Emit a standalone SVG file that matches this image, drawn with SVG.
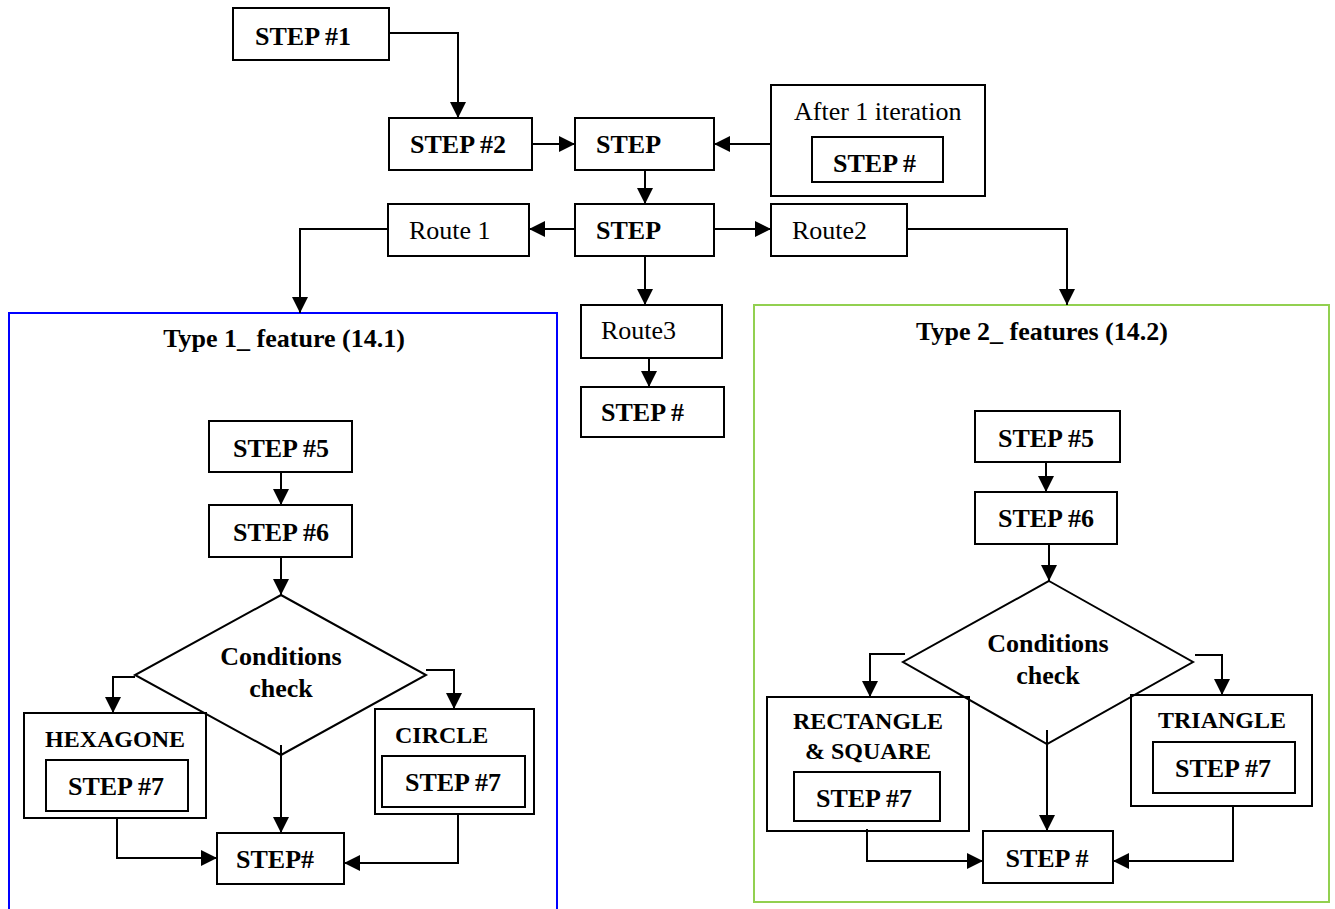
<svg xmlns="http://www.w3.org/2000/svg" width="1335" height="909" viewBox="0 0 1335 909">
  <style>
    .box { fill: none; stroke: #000; stroke-width: 2; }
    .link { fill: none; stroke: #000; stroke-width: 2; marker-end: url(#head); }
    .plain { fill: none; stroke: #000; stroke-width: 2; }
    .b { font-family: "Liberation Serif", "Times New Roman", serif; font-weight: bold; font-size: 26px; fill: #000; }
    .r { font-family: "Liberation Serif", "Times New Roman", serif; font-size: 26px; fill: #000; }
    .s { font-family: "Liberation Serif", "Times New Roman", serif; font-weight: bold; font-size: 24px; fill: #000; }
    .mid { text-anchor: middle; }
  </style>
  <defs>
    <marker id="head" markerUnits="userSpaceOnUse" markerWidth="16" markerHeight="16" viewBox="0 0 14 14" refX="14" refY="7" orient="auto">
      <path d="M0,0 L14,7 L0,14 Z" fill="#000"/>
    </marker>
  </defs>

  <rect width="1335" height="909" fill="#fff"/>

  <!-- group frames -->
  <g id="type1-frame">
    <rect x="9" y="313" width="548" height="600" fill="none" stroke="#0000ff" stroke-width="2"/>
    <text class="b mid" x="284" y="347">Type 1_ feature (14.1)</text>
  </g>
  <g id="type2-frame">
    <rect x="754" y="305" width="575" height="597" fill="none" stroke="#92d050" stroke-width="2"/>
    <text class="b mid" x="1042" y="340">Type 2_ features (14.2)</text>
  </g>

  <!-- top flow -->
  <g id="step1"><rect class="box" x="233" y="8" width="156" height="52"/><text class="b" x="255" y="45">STEP #1</text></g>
  <g id="step2"><rect class="box" x="389" y="118" width="143" height="52"/><text class="b" x="410" y="153">STEP #2</text></g>
  <g id="step-a"><rect class="box" x="575" y="118" width="139" height="52"/><text class="b" x="596" y="153">STEP</text></g>
  <g id="iteration">
    <rect class="box" x="771" y="85" width="214" height="111"/>
    <text class="r" x="794" y="120">After 1 iteration</text>
    <rect class="box" x="812" y="137" width="131" height="45"/>
    <text class="b" x="833" y="172">STEP #</text>
  </g>
  <g id="step-b"><rect class="box" x="575" y="204" width="139" height="52"/><text class="b" x="596" y="239">STEP</text></g>
  <g id="route1"><rect class="box" x="388" y="204" width="141" height="52"/><text class="r" x="409" y="239">Route 1</text></g>
  <g id="route2"><rect class="box" x="771" y="204" width="136" height="52"/><text class="r" x="792" y="239">Route2</text></g>
  <g id="route3"><rect class="box" x="581" y="305" width="141" height="53"/><text class="r" x="601" y="339">Route3</text></g>
  <g id="step-c"><rect class="box" x="581" y="387" width="143" height="50"/><text class="b" x="601" y="421">STEP #</text></g>

  <!-- type 1 nodes -->
  <g id="t1-step5"><rect class="box" x="209" y="421" width="143" height="51"/><text class="b mid" x="281" y="457">STEP #5</text></g>
  <g id="t1-step6"><rect class="box" x="209" y="505" width="143" height="52"/><text class="b mid" x="281" y="541">STEP #6</text></g>
  <g id="t1-hexagone">
    <rect class="box" x="24" y="713" width="182" height="105"/>
    <text class="s" x="45" y="747">HEXAGONE</text>
    <rect class="box" x="46" y="760" width="142" height="51"/>
    <text class="b mid" x="116" y="795">STEP #7</text>
  </g>
  <g id="t1-circle">
    <rect class="box" x="375" y="709" width="159" height="105"/>
    <text class="s" x="395" y="743">CIRCLE</text>
    <rect class="box" x="382" y="756" width="143" height="51"/>
    <text class="b mid" x="453" y="791">STEP #7</text>
  </g>
  <g id="t1-check">
    <path class="box" d="M281,595 L426,675 L281,755 L135,675 Z"/>
    <text class="b mid" x="281" y="665">Conditions</text>
    <text class="b mid" x="281" y="697">check</text>
  </g>
  <g id="t1-end"><rect class="box" x="217" y="833" width="127" height="51"/><text class="b mid" x="275" y="868">STEP#</text></g>

  <!-- type 2 nodes -->
  <g id="t2-step5"><rect class="box" x="975" y="411" width="145" height="51"/><text class="b mid" x="1046" y="447">STEP #5</text></g>
  <g id="t2-step6"><rect class="box" x="975" y="492" width="142" height="52"/><text class="b mid" x="1046" y="527">STEP #6</text></g>
  <g id="t2-rectangle">
    <rect class="box" x="767" y="697" width="202" height="134"/>
    <text class="s mid" x="868" y="729">RECTANGLE</text>
    <text class="s mid" x="868" y="759">&amp; SQUARE</text>
    <rect class="box" x="794" y="772" width="146" height="49"/>
    <text class="b mid" x="864" y="807">STEP #7</text>
  </g>
  <g id="t2-triangle">
    <rect class="box" x="1131" y="695" width="181" height="111"/>
    <text class="s mid" x="1222" y="728">TRIANGLE</text>
    <rect class="box" x="1153" y="742" width="142" height="51"/>
    <text class="b mid" x="1223" y="777">STEP #7</text>
  </g>
  <g id="t2-check">
    <path class="box" d="M1049,581 L1193,662 L1047,744 L903,662 Z"/>
    <text class="b mid" x="1048" y="652">Conditions</text>
    <text class="b mid" x="1048" y="684">check</text>
  </g>
  <g id="t2-end"><rect class="box" x="983" y="831" width="130" height="52"/><text class="b mid" x="1047" y="867">STEP #</text></g>

  <!-- connectors -->
  <g id="connectors">
    <path class="link" d="M389,33 H458 V118"/>
    <path class="link" d="M532,144 H575"/>
    <path class="link" d="M771,144 H714"/>
    <path class="link" d="M645,170 V204"/>
    <path class="link" d="M575,229 H529"/>
    <path class="link" d="M714,229 H771"/>
    <path class="link" d="M388,229 H300 V313"/>
    <path class="link" d="M907,229 H1067 V305"/>
    <path class="link" d="M645,256 V305"/>
    <path class="link" d="M649,358 V387"/>

    <path class="link" d="M281,472 V505"/>
    <path class="link" d="M281,557 V595"/>
    <path class="link" d="M135,677 H113 V713"/>
    <path class="link" d="M426,670 H454 V709"/>
    <path class="link" d="M281,745 V833"/>
    <path class="link" d="M117,818 V858 H217"/>
    <path class="link" d="M458,814 V863 H344"/>

    <path class="link" d="M1046,462 V492"/>
    <path class="link" d="M1049,544 V581"/>
    <path class="link" d="M905,654 H870 V697"/>
    <path class="link" d="M1195,655 H1222 V695"/>
    <path class="link" d="M1047,730 V831"/>
    <path class="link" d="M867,829 V861 H983"/>
    <path class="link" d="M1233,806 V861 H1113"/>
  </g>
</svg>
